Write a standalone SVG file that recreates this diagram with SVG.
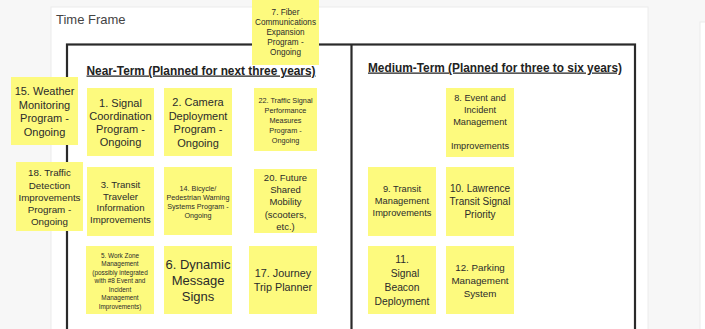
<svg xmlns="http://www.w3.org/2000/svg" width="705" height="329" viewBox="0 0 705 329">
<style>
.sn{fill:#fdfa7e}
.t{font-family:"Liberation Sans",Arial,sans-serif;fill:#2b2b2b;text-anchor:middle;dominant-baseline:central}
.h{font-family:"Liberation Sans",Arial,sans-serif;font-weight:bold;font-size:12.5px;fill:#222;text-decoration:underline}
</style>
<rect x="0" y="0" width="705" height="329" fill="#f7f7f7"/>
<rect x="51" y="7" width="597" height="330" fill="#ffffff" stroke="#ececec" stroke-width="1"/>
<rect x="700" y="22" width="10" height="320" fill="#ffffff" stroke="#ececec" stroke-width="1"/>
<text x="56" y="24" font-family="Liberation Sans,Arial,sans-serif" font-size="13" fill="#444">Time Frame</text>
<g id="frame" fill="none" stroke="#2a2a2a" stroke-width="2.2">
<rect x="67" y="44.5" width="568" height="300"/>
<line x1="351.5" y1="44.5" x2="351.5" y2="335"/>
</g>
<text class="h" x="201" y="74.5" text-anchor="middle" textLength="229" lengthAdjust="spacingAndGlyphs">Near-Term (Planned for next three years)</text>
<text class="h" x="495" y="71.5" text-anchor="middle" textLength="254" lengthAdjust="spacingAndGlyphs">Medium-Term (Planned for three to six years)</text>
<g id="connectors"/>
<g id="n7"><rect class="sn" x="252" y="0" width="67" height="65"/>
<text class="t" font-size="8.2"><tspan x="285.5" y="12">7. Fiber</tspan><tspan x="285.5" y="22">Communications</tspan><tspan x="285.5" y="32">Expansion</tspan><tspan x="285.5" y="42">Program -</tspan><tspan x="285.5" y="52">Ongoing</tspan></text></g>
<g id="n15"><rect class="sn" x="11" y="77" width="67" height="68"/>
<text class="t" font-size="11"><tspan x="44.5" y="91">15. Weather</tspan><tspan x="44.5" y="104.5">Monitoring</tspan><tspan x="44.5" y="118">Program -</tspan><tspan x="44.5" y="131.5">Ongoing</tspan></text></g>
<g id="n1"><rect class="sn" x="87" y="88" width="67" height="68"/>
<text class="t" font-size="11"><tspan x="120.5" y="103">1. Signal</tspan><tspan x="120.5" y="116">Coordination</tspan><tspan x="120.5" y="129">Program -</tspan><tspan x="120.5" y="142">Ongoing</tspan></text></g>
<g id="n2"><rect class="sn" x="164" y="88" width="68" height="68"/>
<text class="t" font-size="11"><tspan x="198" y="102">2. Camera</tspan><tspan x="198" y="115.5">Deployment</tspan><tspan x="198" y="129">Program -</tspan><tspan x="198" y="142.5">Ongoing</tspan></text></g>
<g id="n22"><rect class="sn" x="254" y="88" width="63" height="63"/>
<text class="t" font-size="7.3"><tspan x="285.5" y="100">22. Traffic Signal</tspan><tspan x="285.5" y="110">Performance</tspan><tspan x="285.5" y="119.5">Measures</tspan><tspan x="285.5" y="129.5">Program -</tspan><tspan x="285.5" y="139.5">Ongoing</tspan></text></g>
<g id="n18"><rect class="sn" x="16" y="162" width="67" height="69"/>
<text class="t" font-size="9.8"><tspan x="49.5" y="172">18. Traffic</tspan><tspan x="49.5" y="184.5">Detection</tspan><tspan x="49.5" y="197">Improvements</tspan><tspan x="49.5" y="209">Program -</tspan><tspan x="49.5" y="221">Ongoing</tspan></text></g>
<g id="n3"><rect class="sn" x="87" y="167" width="67" height="69"/>
<text class="t" font-size="9.6"><tspan x="120.5" y="184">3. Transit</tspan><tspan x="120.5" y="195.5">Traveler</tspan><tspan x="120.5" y="207">Information</tspan><tspan x="120.5" y="218.5">Improvements</tspan></text></g>
<g id="n14"><rect class="sn" x="164" y="167" width="68" height="68"/>
<text class="t" font-size="7.2"><tspan x="198" y="188">14. Bicycle/</tspan><tspan x="198" y="197">Pedestrian Warning</tspan><tspan x="198" y="206">Systems Program -</tspan><tspan x="198" y="215">Ongoing</tspan></text></g>
<g id="n20"><rect class="sn" x="254" y="169" width="63" height="64"/>
<text class="t" font-size="9.5"><tspan x="285.5" y="177">20. Future</tspan><tspan x="285.5" y="189">Shared</tspan><tspan x="285.5" y="201">Mobility</tspan><tspan x="285.5" y="213.5">(scooters,</tspan><tspan x="285.5" y="226">etc.)</tspan></text></g>
<g id="n5"><rect class="sn" x="86" y="246" width="68" height="68"/>
<text class="t" font-size="6.4"><tspan x="120" y="254.5">5. Work Zone</tspan><tspan x="120" y="263">Management</tspan><tspan x="120" y="271.5">(possibly integrated</tspan><tspan x="120" y="280">with #8 Event and</tspan><tspan x="120" y="288.5">Incident</tspan><tspan x="120" y="297">Management</tspan><tspan x="120" y="305.5">Improvements)</tspan></text></g>
<g id="n6"><rect class="sn" x="164" y="246" width="68" height="68"/>
<text class="t" font-size="13"><tspan x="198" y="264">6. Dynamic</tspan><tspan x="198" y="280">Message</tspan><tspan x="198" y="296">Signs</tspan></text></g>
<g id="n17"><rect class="sn" x="249" y="246" width="68" height="68"/>
<text class="t" font-size="10.8"><tspan x="283" y="273">17. Journey</tspan><tspan x="283" y="287">Trip Planner</tspan></text></g>
<g id="n8"><rect class="sn" x="446" y="88" width="68" height="69"/>
<text class="t" font-size="9.2"><tspan x="480" y="98">8. Event and</tspan><tspan x="480" y="110">Incident</tspan><tspan x="480" y="122">Management</tspan><tspan x="480" y="146">Improvements</tspan></text></g>
<g id="n9"><rect class="sn" x="368" y="167" width="68" height="69"/>
<text class="t" font-size="9.3"><tspan x="402" y="189">9. Transit</tspan><tspan x="402" y="201">Management</tspan><tspan x="402" y="213">Improvements</tspan></text></g>
<g id="n10"><rect class="sn" x="446" y="167" width="68" height="69"/>
<text class="t" font-size="10"><tspan x="480" y="187.5">10. Lawrence</tspan><tspan x="480" y="200.5">Transit Signal</tspan><tspan x="480" y="214">Priority</tspan></text></g>
<g id="n11"><rect class="sn" x="368" y="246" width="68" height="68"/>
<text class="t" font-size="10.3"><tspan x="402" y="259">11.</tspan><tspan x="405" y="273">Signal</tspan><tspan x="402" y="287">Beacon</tspan><tspan x="402" y="301">Deployment</tspan></text></g>
<g id="n12"><rect class="sn" x="446" y="246" width="68" height="68"/>
<text class="t" font-size="9.8"><tspan x="480" y="267">12. Parking</tspan><tspan x="480" y="280">Management</tspan><tspan x="480" y="293">System</tspan></text></g>
</svg>
